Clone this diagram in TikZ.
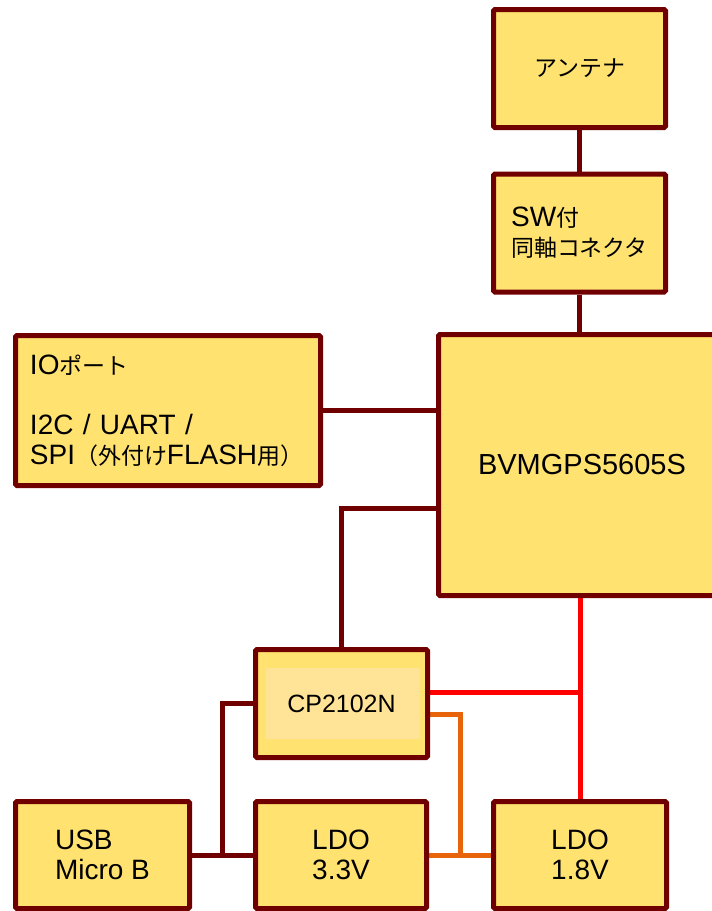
\documentclass[tikz,border=0pt]{standalone}
\usepackage{fontspec}
\setmainfont{Liberation Sans}
\newfontfamily\jpfont{Noto Sans CJK JP}[Scale=0.82]
\newcommand\jp[1]{{\jpfont #1}}
\usetikzlibrary{backgrounds}

\definecolor{boxline}{RGB}{112,0,0}
\definecolor{boxfill}{RGB}{255,226,112}
\definecolor{chipfill}{RGB}{255,228,152}
\definecolor{pwrred}{RGB}{255,0,0}
\definecolor{ioorange}{RGB}{232,100,10}

\tikzset{
  blk/.style={draw=boxline, fill=boxfill, line width=5pt, rounded corners=1.5pt,
    inner sep=0pt, font=\fontsize{28}{30}\selectfont, align=center},
  link/.style={draw=boxline, line width=5pt},
  pwr/.style={draw=pwrred, line width=5pt},
  vio/.style={draw=ioorange, line width=5pt},
}

\begin{document}
\begin{tikzpicture}[x=1pt,y=-1pt]
  \useasboundingbox (0,0) rectangle (712,911);
  \clip (0,0) rectangle (712,911);

  % blocks
  \node[blk, minimum width=172, minimum height=118] (ant) at (579.5,68.5) {\jp{アンテナ}};
  \node[blk, minimum width=172, minimum height=118, align=left] (sw) at (579.5,233)
    {SW\jp{付}\\\jp{同軸コネクタ}};
  \node[blk, minimum width=287, minimum height=261, font=\fontsize{29}{30}\selectfont]
    (bvm) at (582,465) {BVMGPS5605S};
  \node[blk, minimum width=305, minimum height=150, text width=276, align=left] (io) at (168,410.5)
    {IO\jp{ポート}\\\mbox{}\\I2C / UART /\\SPI\jp{（外付け}FLASH\jp{用）}};
  \node[blk, minimum width=172, minimum height=108, font=\fontsize{25}{30}\selectfont,
    path picture={\fill[chipfill] ([shift={(10.5,18.5)}]path picture bounding box.north west)
      rectangle ([shift={(-7.5,-18.5)}]path picture bounding box.south east);}]
    (cp) at (341.5,703.5) {CP2102N};
  \node[blk, minimum width=174, minimum height=107, align=left] (usb) at (102.5,855) {USB\\Micro B};
  \node[blk, minimum width=171, minimum height=107] (ldo33) at (341,855) {LDO\\3.3V};
  \node[blk, minimum width=173, minimum height=107] (ldo18) at (580,855) {LDO\\1.8V};

  % junctions
  \coordinate (bj) at (341,508);
  \coordinate (uj) at (222,703);
  \coordinate (rj) at (580,692);
  \coordinate (oj) at (460,714);

  % wiring
  \begin{scope}[on background layer]
    \draw[link] (ant.south) -- (sw.north);
    \draw[link] (sw.south) -- (sw.south |- bvm.north);
    \draw[link] (io.east) -- (io.east -| bvm.west);
    \draw[link] (bj -| bvm.west) -- (bj) -- (bj |- cp.north);
    \draw[link] (usb.east) -- (ldo33.west);
    \draw[link] (usb.east -| uj) -- (uj) -- (uj -| cp.west);
    \draw[pwr] (rj |- bvm.south) -- (rj |- ldo18.north);
    \draw[pwr] (rj -| cp.east) -- (rj);
    \draw[vio] (oj -| cp.east) -- (oj) -- (oj |- ldo33.east);
    \draw[vio] (ldo33.east) -- (ldo18.west);
  \end{scope}
\end{tikzpicture}
\end{document}
